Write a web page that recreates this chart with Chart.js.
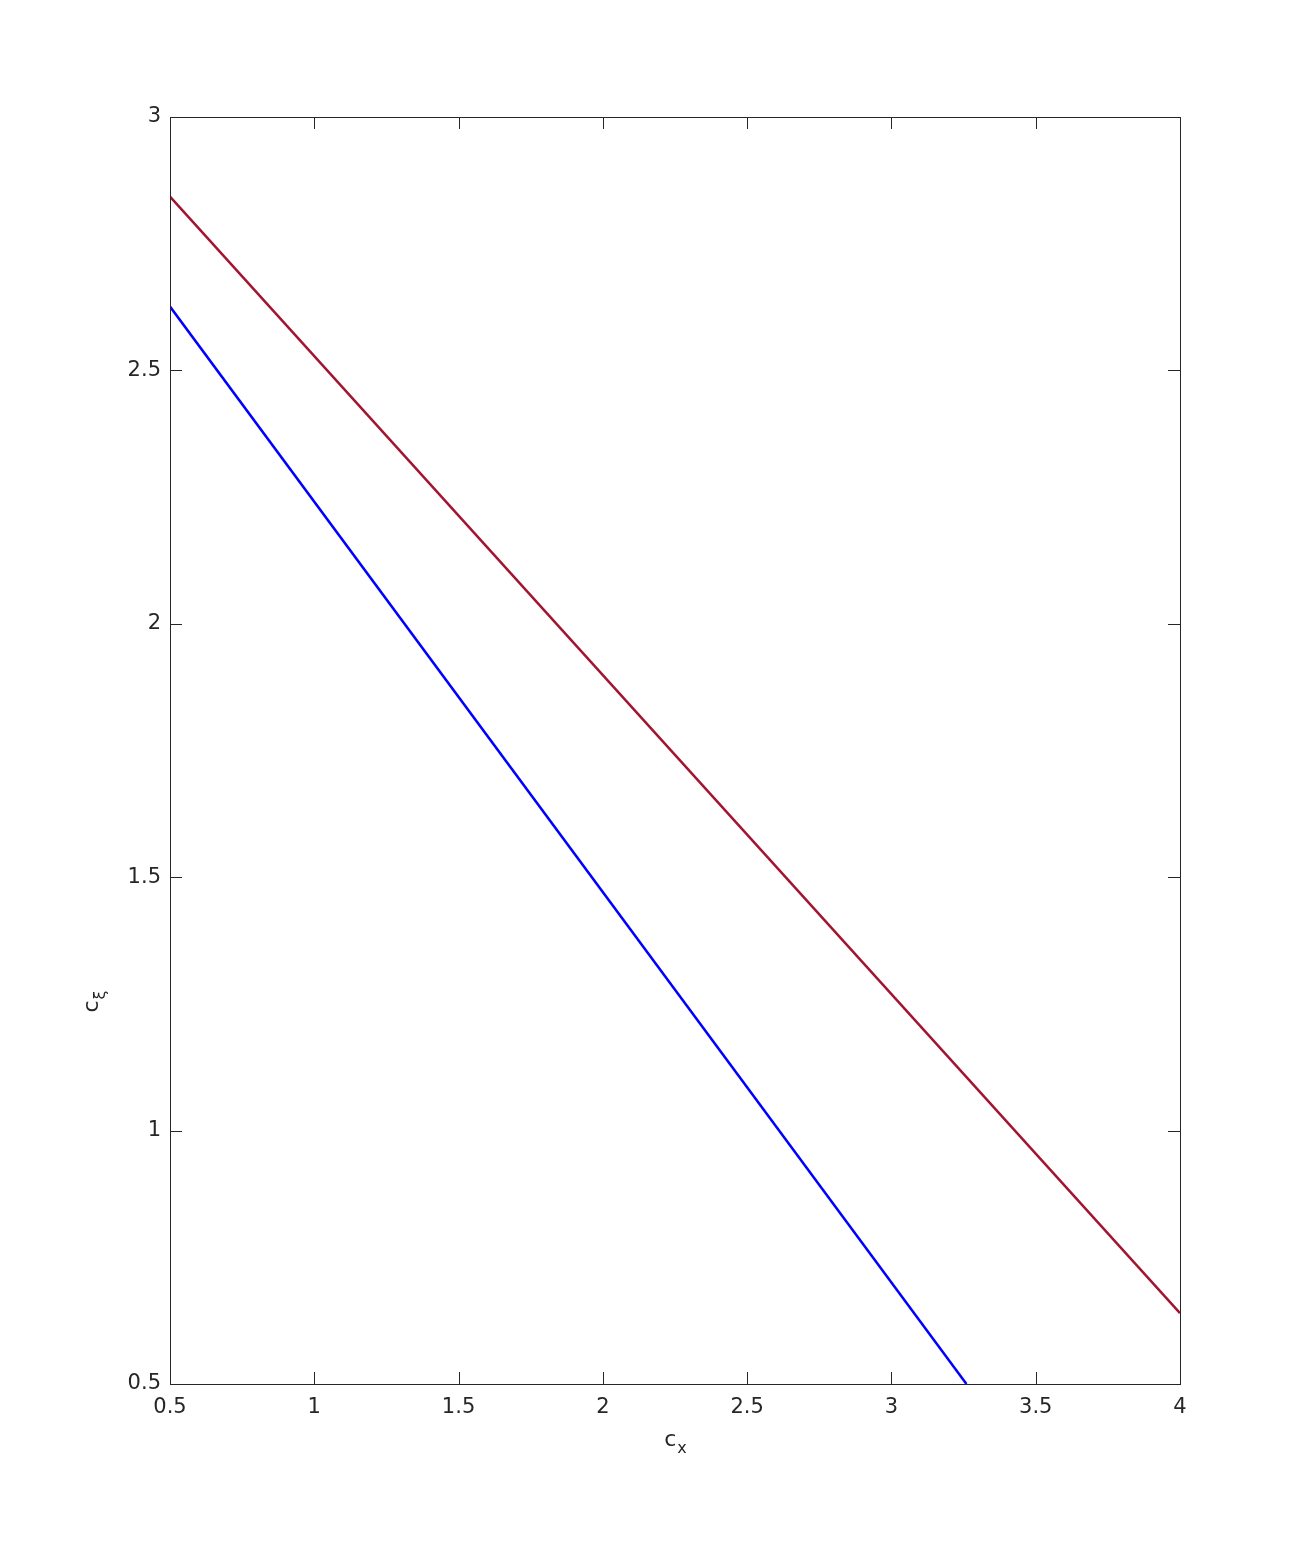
<!DOCTYPE html>
<html>
<head>
<meta charset="utf-8">
<script src="https://cdn.jsdelivr.net/npm/chart.js@4.4.0/dist/chart.umd.min.js"></script>
<style>
  html, body { margin: 0; padding: 0; background: #fff; }
  #wrap { width: 1305px; height: 1556px; }
</style>
</head>
<body>
<div id="wrap"><canvas id="chart"></canvas></div>
<script>
// line data
const upperX = [0.5, 4];
const upperY = [2.843, 0.640];
const lowerX = [0.5, 3.26];
const lowerY = [2.626, 0.5];

const xTicks = [0.5, 1, 1.5, 2, 2.5, 3, 3.5, 4];
const yTicks = [0.5, 1, 1.5, 2, 2.5, 3];

const FONT = 'DejaVu Sans, sans-serif';
const TEXT = '#262626';

function toPoints(xs, ys) {
    return xs.map((x, i) => ({ x: x, y: ys[i] }));
}

// frame with inward ticks on all four sides, MATLAB style
const framePlugin = {
    id: 'frame',
    afterDatasetsDraw(chart) {
        const { ctx, chartArea: a, scales } = chart;
        const len = 12;
        ctx.save();
        ctx.strokeStyle = '#262626';
        ctx.lineWidth = 1;
        ctx.beginPath();
        xTicks.forEach(v => {
            const px = Math.round(scales.x.getPixelForValue(v)) + 0.5;
            ctx.moveTo(px, a.bottom); ctx.lineTo(px, a.bottom - len);
            ctx.moveTo(px, a.top); ctx.lineTo(px, a.top + len);
        });
        yTicks.forEach(v => {
            const py = Math.round(scales.y.getPixelForValue(v)) + 0.5;
            ctx.moveTo(a.left, py); ctx.lineTo(a.left + len, py);
            ctx.moveTo(a.right, py); ctx.lineTo(a.right - len, py);
        });
        ctx.stroke();
        ctx.strokeRect(Math.round(a.left) + 0.5, Math.round(a.top) + 0.5,
            Math.round(a.right - a.left), Math.round(a.bottom - a.top));

        // axis titles with subscripts
        ctx.fillStyle = TEXT;
        ctx.textBaseline = 'alphabetic';
        const drawSub = (base, sub) => {
            ctx.font = '22px ' + FONT;
            const w1 = ctx.measureText(base).width;
            ctx.font = '16px ' + FONT;
            const w2 = ctx.measureText(sub).width;
            const x0 = -(w1 + w2) / 2;
            ctx.font = '22px ' + FONT;
            ctx.fillText(base, x0, 0);
            ctx.font = '16px ' + FONT;
            ctx.fillText(sub, x0 + w1 + 1, 7);
        };
        ctx.save();
        ctx.translate((a.left + a.right) / 2, 1446);
        drawSub('c', 'x');
        ctx.restore();
        ctx.save();
        ctx.translate(98, 1002);
        ctx.rotate(-Math.PI / 2);
        drawSub('c', 'ξ');
        ctx.restore();
        ctx.restore();
    }
};

new Chart(document.getElementById('chart'), {
    type: 'scatter',
    data: {
        datasets: [
            {
                data: toPoints(upperX, upperY),
                showLine: true,
                borderColor: '#A2142F',
                borderWidth: 2.5,
                pointRadius: 0
            },
            {
                data: toPoints(lowerX, lowerY),
                showLine: true,
                borderColor: '#0000FF',
                borderWidth: 2.5,
                pointRadius: 0
            }
        ]
    },
    options: {
        responsive: true,
        maintainAspectRatio: false,
        animation: false,
        events: [],
        layout: { padding: { left: 0, right: 125, top: 117, bottom: 0 } },
        plugins: { legend: { display: false }, tooltip: { enabled: false } },
        scales: {
            x: {
                type: 'linear',
                min: 0.5,
                max: 4,
                afterFit: s => { s.height = 172; },
                afterBuildTicks: s => { s.ticks = xTicks.map(v => ({ value: v })); },
                grid: { display: false, drawTicks: false },
                border: { display: false },
                ticks: {
                    padding: 11,
                    color: TEXT,
                    font: { family: FONT, size: 21 },
                    maxRotation: 0,
                    callback: v => String(v)
                }
            },
            y: {
                type: 'linear',
                min: 0.5,
                max: 3,
                afterFit: s => { s.width = 170; },
                afterBuildTicks: s => { s.ticks = yTicks.map(v => ({ value: v })); },
                grid: { display: false, drawTicks: false },
                border: { display: false },
                ticks: {
                    padding: 9,
                    color: TEXT,
                    font: { family: FONT, size: 21 },
                    callback: v => String(v)
                }
            }
        }
    },
    plugins: [framePlugin]
});
</script>
</body>
</html>
